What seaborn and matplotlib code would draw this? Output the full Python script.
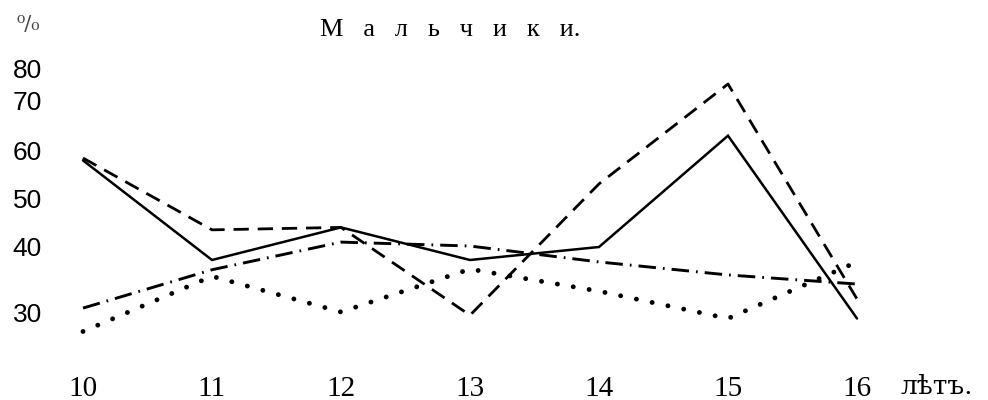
import numpy as np
import pandas as pd
import matplotlib
matplotlib.use("Agg")
import matplotlib.pyplot as plt
import seaborn as sns

# ---- data -------------------------------------------------------------
ages = [10, 11, 12, 13, 14, 15, 16]
solid_vals = [58, 38, 44, 38, 40, 63, 29]
dashed_vals = [58.5, 43.5, 44, 29.5, 53, 75, 32]
dashdot_vals = [30.6, 36.5, 41, 40.2, 37.7, 35.7, 34.3]
dotted_vals = [27, 35.5, 30, 36.6, 33.2, 29, 37.7]
ytick_vals = [30, 40, 50, 60, 70, 80]
ytick_labels = ["30", "40", "50", "60", "70", "80"]
xtick_labels = ["10", "11", "12", "13", "14", "15", "16"]
title = "М   а   л   ь   ч   и   к   и."
unit_label = "⁰/₀"
age_unit = "лѣтъ."

# irregular vertical scale of the original (tick value -> relative height)
scale_vals = np.array([30, 40, 50, 60, 70, 80], dtype=float)
scale_pos = np.array([0.0, 65.0, 114.0, 161.0, 212.0, 244.0])


def fwd(v):
    v = np.asarray(v, dtype=float)
    out = np.interp(v, scale_vals, scale_pos)
    lo = v < scale_vals[0]
    hi = v > scale_vals[-1]
    s_lo = (scale_pos[1] - scale_pos[0]) / (scale_vals[1] - scale_vals[0])
    s_hi = (scale_pos[-1] - scale_pos[-2]) / (scale_vals[-1] - scale_vals[-2])
    out = np.where(lo, scale_pos[0] + (v - scale_vals[0]) * s_lo, out)
    out = np.where(hi, scale_pos[-1] + (v - scale_vals[-1]) * s_hi, out)
    return out


def inv(p):
    p = np.asarray(p, dtype=float)
    out = np.interp(p, scale_pos, scale_vals)
    lo = p < scale_pos[0]
    hi = p > scale_pos[-1]
    s_lo = (scale_vals[1] - scale_vals[0]) / (scale_pos[1] - scale_pos[0])
    s_hi = (scale_vals[-1] - scale_vals[-2]) / (scale_pos[-1] - scale_pos[-2])
    out = np.where(lo, scale_vals[0] + (p - scale_pos[0]) * s_lo, out)
    out = np.where(hi, scale_vals[-1] + (p - scale_pos[-1]) * s_hi, out)
    return out


sns.set_theme(style="white")
plt.rcParams["font.family"] = ["Liberation Serif", "DejaVu Serif"]
plt.rcParams["text.color"] = "black"
plt.rcParams["xtick.color"] = "black"
plt.rcParams["ytick.color"] = "black"

W, H = 988, 400
fig = plt.figure(figsize=(W / 100, H / 100), dpi=100)
fig.patch.set_facecolor("white")

# axes placed in pixel units
ax_l, ax_r, ax_t, ax_b = 60, 900, 50, 362
ax = fig.add_axes([ax_l / W, 1 - ax_b / H, (ax_r - ax_l) / W, (ax_b - ax_t) / H])
ax.set_facecolor("white")

series = [
    (solid_vals, "-", 1.8, "butt"),
    (dashed_vals, (0, (5.5, 3.2)), 2.0, "butt"),
    (dashdot_vals, (0, (6.0, 2.4, 0.6, 2.4)), 2.1, "butt"),
    (dotted_vals, (0, (0.01, 3.3)), 3.5, "round"),
]
for vals, ls, lw, cap in series:
    df = pd.DataFrame({"age": ages, "value": vals})
    sns.lineplot(data=df, x="age", y="value", ax=ax, color="black",
                 linestyle=ls, linewidth=lw, solid_joinstyle="miter",
                 dash_capstyle=cap)

ax.set_yscale("function", functions=(fwd, inv))

# x: age 10 at px 83, spacing 129 px
x0px, dx = 83.0, 129.0
ax.set_xlim(10 + (ax_l - x0px) / dx, 10 + (ax_r - x0px) / dx)
# y: value 30 at px 312, pixel scale 1:1 with scale_pos
ypx30 = 312.0
ax.set_ylim(inv(ypx30 - ax_b).item(), inv(ypx30 - ax_t).item())

ax.set_xticks(ages)
ax.set_xticklabels(xtick_labels, fontsize=21, family=["Liberation Serif", "DejaVu Serif"])
ax.set_yticks(ytick_vals)
ax.set_yticklabels(ytick_labels, fontsize=19, family=["Liberation Sans", "DejaVu Sans"])
ax.tick_params(axis="x", length=0, pad=10, colors="black")
ax.tick_params(axis="y", length=0, pad=13, colors="black")
ax.minorticks_off()
ax.set_xlabel("")
ax.set_ylabel("")
sns.despine(ax=ax, left=True, bottom=True)

fig.text(450 / W, 1 - 30 / H, title, ha="center", va="center", fontsize=19,
         family=["Liberation Serif", "DejaVu Serif"], color="black")
fig.text(28 / W, 1 - 24 / H, unit_label, ha="center", va="center", fontsize=15,
         family=["DejaVu Serif"], color="#444444")
fig.text(900 / W, 1 - 386 / H, age_unit, ha="left", va="center", fontsize=19,
         family=["DejaVu Serif"], color="black")

fig.savefig("out.png", dpi=100, facecolor="white")
